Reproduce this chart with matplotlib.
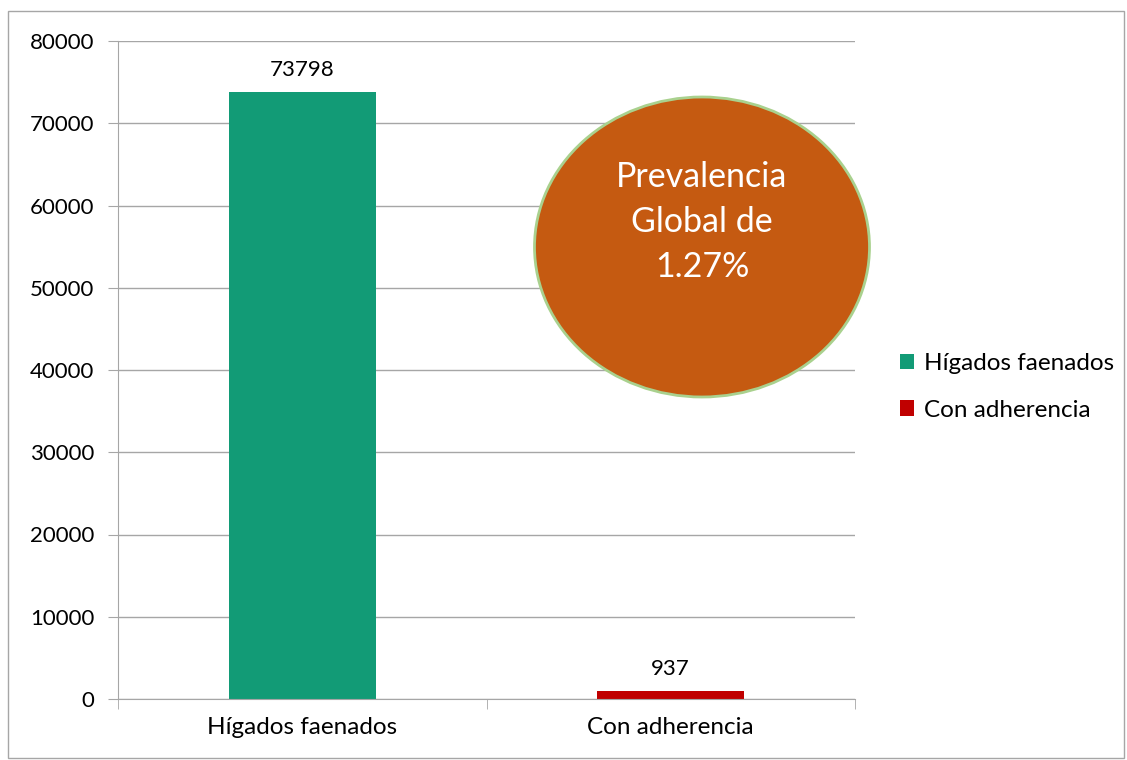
import matplotlib.pyplot as plt
from matplotlib.patches import Ellipse, Rectangle

categories = ['Hígados faenados', 'Con adherencia']
values = [73798, 937]
colors = ['#129B76', '#C00000']
yticks = [0, 10000, 20000, 30000, 40000, 50000, 60000, 70000, 80000]
note = 'Prevalencia\nGlobal de\n1.27%'

plt.rcParams['font.family'] = ['Lato', 'DejaVu Sans']

W, H = 1127, 760
fig = plt.figure(figsize=(W / 100, H / 100), dpi=100)
ax = fig.add_axes([118 / W, 61 / H, (855 - 118) / W, (699 - 41) / H])

x = list(range(len(categories)))
bars = ax.bar(x, values, width=0.40, color=colors, zorder=3)
for xi, v in zip(x, values):
    ax.annotate(str(v), (xi, v), xytext=(0, 9), textcoords='offset points',
                ha='center', va='bottom', fontsize=16)

ax.set_xlim(-0.5, 1.5)
ax.set_ylim(0, 80000)
ax.set_yticks(yticks)
ax.set_yticklabels([str(t) for t in yticks], fontsize=16)
ax.set_xticks(x)
ax.set_xticklabels(categories, fontsize=17.5)
ax.tick_params(axis='x', length=0, pad=13)
ax.set_xticks([-0.5, 0.5, 1.5], minor=True)
ax.tick_params(axis='x', which='minor', length=7, color='#A6A6A6', direction='out')
ax.tick_params(axis='y', length=7, color='#A6A6A6', direction='out', pad=10)
ax.grid(axis='y', color='#A6A6A6', linewidth=1, zorder=0)
for s in ['top', 'right']:
    ax.spines[s].set_visible(False)
for s in ['left', 'bottom']:
    ax.spines[s].set_color('#A6A6A6')
    ax.spines[s].set_zorder(4)

# callout ellipse in pixel-based figure coordinates
ell = Ellipse((702 / W, 1 - 247 / H), 335 / W, 300 / H, transform=fig.transFigure,
              facecolor='#C55A11', edgecolor='#A9D18E', linewidth=2, zorder=5)
fig.patches.append(ell)
fig.text(702 / W, 1 - 222 / H, note, ha='center', va='center', color='white',
         fontsize=24.5, linespacing=1.5, zorder=6)

fig.legend(bars, categories, loc='center left', bbox_to_anchor=(878 / W, 1 - 387 / H),
           frameon=False, fontsize=17.5, handlelength=0.6, handleheight=0.6,
           handletextpad=0.4, labelspacing=1.05)

fig.patches.append(Rectangle((8 / W, 2 / H), 1 - 11 / W, 1 - 13 / H, transform=fig.transFigure,
                             fill=False, edgecolor='#A6A6A6', linewidth=1))

fig.savefig('out.png', dpi=100)
